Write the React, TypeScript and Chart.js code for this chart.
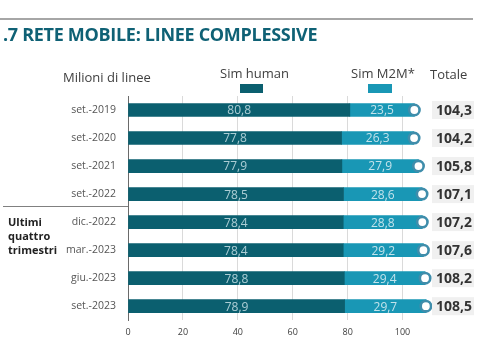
import React, { useEffect, useRef } from "react";
import { Chart, registerables } from "chart.js";

Chart.register(...registerables);

const categories = [
  "set.-2019",
  "set.-2020",
  "set.-2021",
  "set.-2022",
  "dic.-2022",
  "mar.-2023",
  "giu.-2023",
  "set.-2023",
];
const simHuman = [80.8, 77.8, 77.9, 78.5, 78.4, 78.4, 78.8, 78.9];
const simM2M = [23.5, 26.3, 27.9, 28.6, 28.8, 29.2, 29.4, 29.7];
const totals = [104.3, 104.2, 105.8, 107.1, 107.2, 107.6, 108.2, 108.5];
const xTicks = [0, 20, 40, 60, 80, 100];

const HUMAN_COLOR = "#0b5f6f";
const M2M_COLOR = "#1997b5";
const RING_COLOR = "#3f8dab";
const TITLE_COLOR = "#0f6175";
const FONT = "'Open Sans', 'Noto Sans', sans-serif";

const fmt = (v: number) => v.toFixed(1).replace(".", ",");

const labelsPlugin = {
  id: "segLabels",
  afterDatasetsDraw(chart: any) {
    const ctx = chart.ctx;
    ctx.save();
    ctx.textAlign = "center";
    ctx.textBaseline = "middle";
    ctx.font = `12px ${FONT}`;
    [0, 1].forEach((di) => {
      const meta = chart.getDatasetMeta(di);
      const data = chart.data.datasets[di].data as number[];
      ctx.fillStyle = di === 0 ? "rgba(200,225,230,0.85)" : "rgba(225,240,245,0.85)";
      meta.data.forEach((el: any, i: number) => {
        const cx = (el.x + el.base) / 2;
        ctx.fillText(fmt(data[i]), cx, el.y + 1);
      });
    });
    // totals
    const yScale = chart.scales.y;
    ctx.font = `bold 14px ${FONT}`;
    ctx.textAlign = "right";
    totals.forEach((t, i) => {
      const y = yScale.getPixelForValue(i);
      ctx.fillStyle = "#f0f0f0";
      ctx.fillRect(432, y - 9, 42, 18);
      ctx.fillStyle = "#333333";
      ctx.fillText(fmt(t), 472, y + 1);
    });
    ctx.restore();
  },
};

export default function App() {
  const ref = useRef<HTMLCanvasElement>(null);
  useEffect(() => {
    if (!ref.current) return;
    const chart = new Chart(ref.current, {
      type: "bar",
      data: {
        labels: categories,
        datasets: [
          {
            label: "Sim human",
            data: simHuman,
            backgroundColor: HUMAN_COLOR,
            barThickness: 13,
            order: 1,
          } as any,
          {
            label: "Sim M2M*",
            data: simM2M,
            backgroundColor: M2M_COLOR,
            barThickness: 13,
            order: 1,
          } as any,
          {
            type: "line",
            label: "Totale",
            data: totals,
            showLine: false,
            stack: "total",
            clip: false,
            pointRadius: 5.2,
            pointBackgroundColor: "#ffffff",
            pointBorderColor: RING_COLOR,
            pointBorderWidth: 2.6,
            order: 0,
          } as any,
        ],
      },
      options: {
        indexAxis: "y",
        animation: false,
        responsive: true,
        maintainAspectRatio: false,
        layout: { padding: { top: 96, right: 50, bottom: 15, left: 0 } },
        plugins: {
          legend: { display: false },
          tooltip: { enabled: false },
        },
        scales: {
          x: {
            stacked: true,
            min: 0,
            max: 110,
            afterBuildTicks: (scale: any) => {
              scale.ticks = xTicks.map((v) => ({ value: v }));
            },
            grid: { color: "#dadada", drawTicks: false },
            border: { display: false },
            ticks: {
              padding: 7,
              color: "#404040",
              font: { family: FONT, size: 9 },
            },
          },
          y: {
            stacked: true,
            grid: { display: false, drawTicks: false },
            border: { display: true, color: "#6a6a6a", width: 1 },
            afterFit: (scale: any) => {
              scale.width = 128;
            },
            ticks: {
              padding: 12,
              color: "#555555",
              font: { family: FONT, size: 10.5 },
            },
          },
        },
      },
      plugins: [labelsPlugin],
    });
    return () => chart.destroy();
  }, []);

  const abs = (s: React.CSSProperties): React.CSSProperties => ({
    position: "absolute",
    whiteSpace: "nowrap",
    fontFamily: FONT,
    ...s,
  });

  return (
    <div
      style={{
        position: "fixed",
        left: 0,
        top: 0,
        width: 480,
        height: 360,
        background: "#ffffff",
        overflow: "hidden",
      }}
    >
      <div style={{ position: "absolute", left: 0, top: 0, width: 480, height: 360 }}>
        <canvas ref={ref} />
      </div>
      <div style={abs({ left: 0, top: 18, width: 473, height: 2, background: "#a6a6a6" })} />
      <div
        style={abs({
          left: 3,
          top: 22,
          fontSize: 18,
          lineHeight: "24px",
          fontWeight: 700,
          color: TITLE_COLOR,
          letterSpacing: -0.3,
        })}
      >
        .7 RETE MOBILE: LINEE COMPLESSIVE
      </div>
      <div style={abs({ left: 63, top: 68, fontSize: 13, lineHeight: "18px", color: "#404040" })}>
        Milioni di linee
      </div>
      <div style={abs({ left: 220, top: 64, fontSize: 13, lineHeight: "18px", color: "#404040" })}>
        Sim human
      </div>
      <div style={abs({ left: 240, top: 84, width: 23, height: 9, background: HUMAN_COLOR })} />
      <div style={abs({ left: 351, top: 64, fontSize: 13, lineHeight: "18px", color: "#404040" })}>
        Sim M2M*
      </div>
      <div style={abs({ left: 368, top: 84, width: 24, height: 9, background: M2M_COLOR })} />
      <div style={abs({ left: 430, top: 65, fontSize: 13, lineHeight: "18px", color: "#404040" })}>
        Totale
      </div>
      <div style={abs({ left: 3, top: 206, width: 125, height: 1, background: "#808080" })} />
      <div
        style={abs({
          left: 8,
          top: 215,
          fontSize: 11,
          lineHeight: "14px",
          fontWeight: 700,
          color: "#222222",
        })}
      >
        Ultimi
        <br />
        quattro
        <br />
        trimestri
      </div>
    </div>
  );
}
